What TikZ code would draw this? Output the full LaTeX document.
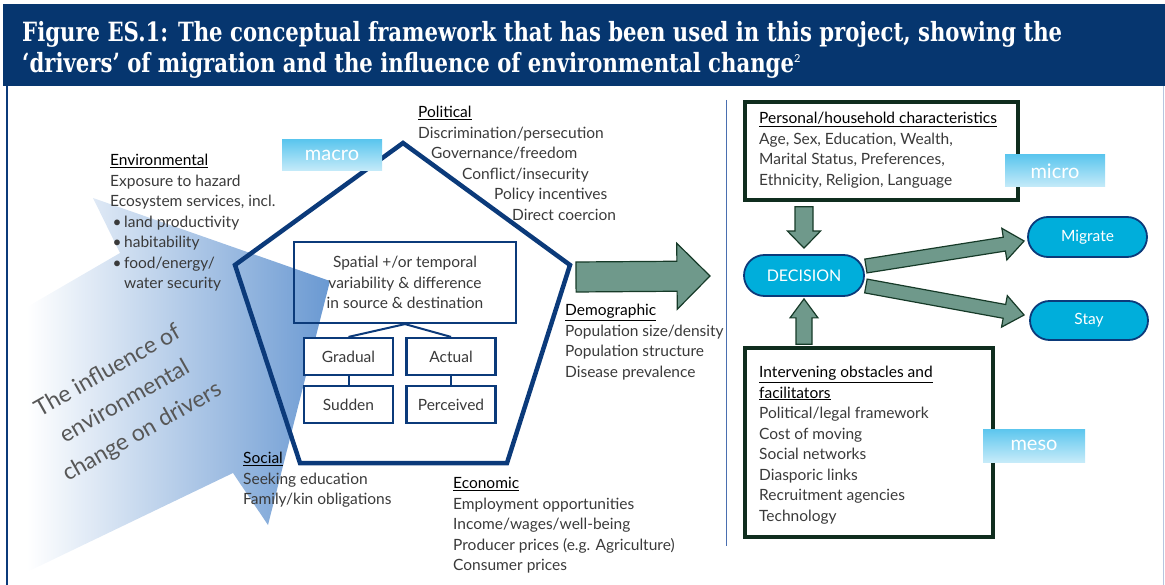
\documentclass[tikz,border=0pt]{standalone}
\usepackage{fontspec}
\setmainfont{Lato}
\newfontfamily\titlefont{DejaVu Serif}[FakeStretch=0.8]
\usepackage{tikz}
\usetikzlibrary{calc,shapes.misc}

\definecolor{bandblue}{HTML}{06366F}
\definecolor{penta}{HTML}{0B3A7A}
\definecolor{sepblue}{HTML}{4A6FB0}
\definecolor{arrgreen}{HTML}{6F998B}
\definecolor{arrdark}{HTML}{163A28}
\definecolor{boxgreen}{HTML}{0F2D1E}
\definecolor{deccyan}{HTML}{00AEDB}
\definecolor{txtgray}{HTML}{3A3A3A}
\definecolor{envblue}{HTML}{6A99D2}
\definecolor{lvlblue}{HTML}{5CC6EE}

\newcommand{\hd}[1]{\textcolor{black}{\underline{#1}}}
\newcommand{\bodyfont}{\fontsize{15.5}{20.5}\selectfont}

% fat outlined arrow: start, tip, shaft half width, head half width, head length
\newcommand{\fatarrow}[5]{%
  \draw[fatarr] let \p1=(#1), \p2=(#2),
    \n1={atan2(\y2-\y1,\x2-\x1)}, \n2={veclen(\x2-\x1,\y2-\y1)-#5} in
    ($(\p1)+(\n1+90:#3pt)$) -- ++(\n1:\n2) -- ++(\n1+90:#4pt-#3pt) -- (\p2)
    -- ($(\p2)+(\n1+180:#5pt)+(\n1-90:#4pt)$) -- ++(\n1+90:#4pt-#3pt)
    -- ++(\n1+180:\n2) -- cycle;}

\tikzset{
  txt/.style={anchor=north west, inner sep=0pt, align=left, text=txtgray, font=\bodyfont},
  drvbox/.style={draw=penta, line width=2.2pt, fill=white, minimum width=89pt,
    minimum height=37pt, inner sep=0pt, text=txtgray, font=\bodyfont},
  lvl/.style={top color=lvlblue, bottom color=lvlblue!35, text=white,
    font=\fontsize{20}{20}\selectfont, inner sep=0pt},
  charbox/.style={draw=boxgreen, line width=3.5pt, inner sep=0pt},
  pill/.style={rounded rectangle, draw=penta, line width=1.8pt, fill=deccyan,
    text=white, inner sep=0pt},
  fatarr/.style={fill=arrgreen, draw=arrdark, line width=1.2pt, line join=miter},
  ttl/.style={anchor=base west, inner sep=0pt, text=white,
    font=\titlefont\bfseries\fontsize{26.5}{26.5}\selectfont}
}

\begin{document}
\begin{tikzpicture}[x=1pt,y=-1pt]
	\useasboundingbox (0,0) rectangle (1165,585);

	% title band
	\fill[bandblue] (3,4) rectangle (1165,86);
	\node[ttl] (ttlone) at (22,42) {Figure ES.1: The conceptual framework that has been used in this project, showing the};
	\node[ttl] (ttltwo) at (22,73) {‘drivers’ of migration and the influence of environmental change\raisebox{10pt}{\normalfont\fontsize{11}{11}\selectfont 2}};
	\draw[penta, line width=1.4pt] (7,86) -- (7,585);
	\draw[sepblue!40, line width=0.6pt] (1163,86) -- (1163,585);

	% influence of environmental change
	\shade[left color=white, right color=envblue] (27,307) -- (120,253) -- (93,198) -- (330,281)
		-- (268,525) -- (233,473) -- (27,572) -- cycle;
	\node[rotate=29.5, align=center, text=txtgray!85, inner sep=0pt,
		font=\fontsize{23}{35}\selectfont] (infl) at (125,402) {The influence of\\environmental\\change on drivers};

	% macro pentagon
	\coordinate (ptop) at (403,143);
	\coordinate (pright) at (570,265);
	\coordinate (pbr) at (507,463);
	\coordinate (pbl) at (300,463);
	\coordinate (pleft) at (235,265);
	\draw[penta, line width=4.5pt, line join=miter] (ptop) -- (pright) -- (pbr) -- (pbl) -- (pleft) -- cycle;

	\node[draw=penta, line width=2.2pt, minimum width=222pt, minimum height=81pt, inner sep=0pt,
		align=center, text=txtgray, font=\bodyfont] (src) at (405,282.5)
		{Spatial +/or temporal\\variability \& difference\\in source \& destination};
	\node[drvbox] (grad) at (348.5,356.5) {Gradual};
	\node[drvbox] (sud) at (348.5,404.5) {Sudden};
	\node[drvbox] (act) at (451,356.5) {Actual};
	\node[drvbox] (perc) at (451,404.5) {Perceived};
	\draw[penta, line width=2pt] (src.south) -- (grad.north);
	\draw[penta, line width=2pt] (src.south) -- (act.north);
	\draw[penta, line width=2pt] (grad) -- (sud);
	\draw[penta, line width=2pt] (act) -- (perc);

	\node[lvl, minimum width=100pt, minimum height=31pt] (macro) at (332,155.5) {macro};

	% drivers
	\node[txt] (env) at (110,154) {\hd{Environmental}\\Exposure to hazard\\Ecosystem services, incl.\\
		\makebox[14pt][c]{\textbullet}land productivity\\\makebox[14pt][c]{\textbullet}habitability\\
		\makebox[14pt][c]{\textbullet}food/energy/\\\hspace*{14pt}water security};
	\node[txt] (pol) at (418,106) {\hd{Political}\\Discrimination/persecution\\\hspace*{13pt}Governance/freedom\\
		\hspace*{44pt}Conflict/insecurity\\\hspace*{76pt}Policy incentives\\\hspace*{94pt}Direct coercion};
	\node[txt] (dem) at (565,304) {\hd{Demographic}\\Population size/density\\Population structure\\Disease prevalence};
	\node[txt] (soc) at (243,452) {\hd{Social}\\Seeking education\\Family/kin obligations};
	\node[txt] (eco) at (453,477) {\hd{Economic}\\Employment opportunities\\Income/wages/well-being\\
		Producer prices (e.g. Agriculture)\\Consumer prices};

	\coordinate (bigstart) at (576,277);
	\coordinate (bigtip) at (710,276);
	\fatarrow{bigstart}{bigtip}{15}{33}{33}

	\draw[sepblue, line width=1pt] (726,100) -- (726,546);

	% micro / meso
	\node[charbox, minimum width=273pt, minimum height=98pt] (pers) at (881.5,151) {};
	\node[txt] (perstxt) at (759,112) {\hd{Personal/household characteristics}\\Age, Sex, Education, Wealth,\\
		Marital Status, Preferences,\\Ethnicity, Religion, Language};
	\node[charbox, minimum width=248pt, minimum height=189pt] (interv) at (869,442.5) {};
	\node[txt] (intervtxt) at (759,366) {\hd{Intervening obstacles and}\\\hd{facilitators}\\Political/legal framework\\
		Cost of moving\\Social networks\\Diasporic links\\Recruitment agencies\\Technology};

	\node[pill, minimum width=120pt, minimum height=41pt, font=\fontsize{16}{16}\selectfont] (dec) at (804,275.5) {DECISION};
	\node[pill, minimum width=119pt, minimum height=40pt, font=\bodyfont] (mig) at (1087.5,237) {Migrate};
	\node[pill, minimum width=118pt, minimum height=39pt, font=\bodyfont] (stay) at (1089,320.5) {Stay};

	\coordinate (downs) at ($(dec |- pers.south)+(0,5)$);
	\coordinate (downt) at ($(dec.north)+(0,-6)$);
	\fatarrow{downs}{downt}{9}{16.5}{17}
	\coordinate (ups) at ($(dec |- interv.north)+(0,-2)$);
	\coordinate (upt) at ($(dec.south)+(0,2)$);
	\fatarrow{ups}{upt}{8}{14}{19}
	\coordinate (migs) at ($(dec.east)+(1,-9.5)$);
	\coordinate (migt) at ($(mig.west)+(-3,4)$);
	\fatarrow{migs}{migt}{7}{16}{20}
	\coordinate (stays) at ($(dec.east)+(1,10.5)$);
	\coordinate (stayt) at ($(stay.west)+(-5,-5.5)$);
	\fatarrow{stays}{stayt}{7}{16}{20}

	\node[lvl, minimum width=100pt, minimum height=32pt] (micro) at (1055,171) {micro};
	\node[lvl, minimum width=102pt, minimum height=33pt] (meso) at (1034,445.5) {meso};
\end{tikzpicture}
\end{document}
